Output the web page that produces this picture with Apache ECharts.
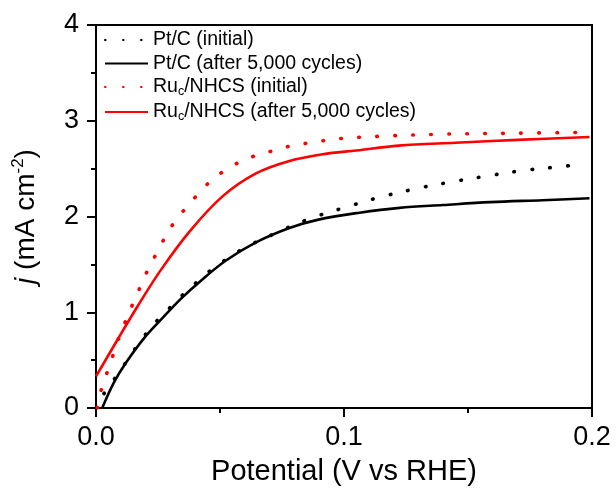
<!DOCTYPE html>
<html>
<head>
<meta charset="utf-8">
<script src="https://cdn.jsdelivr.net/npm/echarts@6/dist/echarts.min.js"></script>
<style>html,body{margin:0;padding:0;background:#fff;}#c{width:616px;height:504px;}</style>
</head>
<body>
<div id="c"></div>
<script>
// Series names
const seriesNames = ['Pt/C (initial)', 'Pt/C (after 5,000 cycles)', 'Ru_c/NHCS (initial)', 'Ru_c/NHCS (after 5,000 cycles)'];
// Axis ticks
const xTicks = [0.0, 0.1, 0.2];
const yTicks = [0, 1, 2, 3, 4];

// Pt/C (initial)
const ptInitV = [0.0032, 0.0076, 0.0116, 0.018, 0.0245, 0.0299, 0.0353, 0.0409, 0.0463, 0.0584, 0.0719, 0.0854, 0.0998, 0.1143, 0.129, 0.143, 0.157, 0.172, 0.187, 0.194];
const ptInitJ = [0.15, 0.31, 0.46, 0.70, 0.91, 1.05, 1.19, 1.32, 1.44, 1.65, 1.82, 1.97, 2.09, 2.20, 2.29, 2.36, 2.42, 2.48, 2.52, 2.54];
// Pt/C (after 5,000 cycles)
const ptAfterV = [0.0025, 0.0073, 0.012, 0.0194, 0.0261, 0.0342, 0.0423, 0.0524, 0.0645, 0.078, 0.0901, 0.1063, 0.1224, 0.14, 0.159, 0.18, 0.199];
const ptAfterJ = [0.00, 0.27, 0.47, 0.73, 0.92, 1.14, 1.33, 1.54, 1.73, 1.88, 1.97, 2.04, 2.09, 2.12, 2.15, 2.17, 2.19];
// Ru_c/NHCS (initial)
const ruInitV = [0.0005, 0.0019, 0.0043, 0.0066, 0.0089, 0.0147, 0.0174, 0.0203, 0.0241, 0.0308, 0.0403, 0.0454, 0.0513, 0.058, 0.0648, 0.0719, 0.079, 0.0863, 0.0939, 0.101, 0.1086, 0.1157, 0.14, 0.17, 0.199];
const ruInitJ = [0.00, 0.17, 0.36, 0.53, 0.71, 1.08, 1.24, 1.41, 1.60, 1.91, 2.21, 2.35, 2.47, 2.57, 2.64, 2.69, 2.74, 2.77, 2.80, 2.82, 2.83, 2.84, 2.86, 2.87, 2.88];
// Ru_c/NHCS (after 5,000 cycles)
const ruAfterV = [0.000, 0.0086, 0.0167, 0.0261, 0.0376, 0.051, 0.0645, 0.078, 0.0914, 0.105, 0.122, 0.145, 0.17, 0.199];
const ruAfterJ = [0.33, 0.71, 1.06, 1.44, 1.84, 2.21, 2.45, 2.58, 2.65, 2.69, 2.74, 2.77, 2.80, 2.83];

function pairs(v, j) { return v.map((x, i) => [x, j[i]]); }

const FONT = 'Liberation Sans, Arial, sans-serif';
const chart = echarts.init(document.getElementById('c'), null, {renderer: 'canvas'});

function mk(name, v, j, color, dash) {
  return {
    name: name, type: 'line', data: pairs(v, j), smooth: 0.35,
    showSymbol: false, symbol: 'none',
    lineStyle: {color: color, width: dash ? 3.6 : 2.6, type: dash ? [0.6, 17.4] : 'solid', cap: dash ? 'round' : 'butt'},
    itemStyle: {color: color}
  };
}

chart.setOption({
  animation: false,
  backgroundColor: '#fff',
  grid: {left: 96, right: 24, top: 25, bottom: 96, show: true, borderColor: '#000', borderWidth: 2, backgroundColor: 'transparent'},
  legend: {
    orient: 'vertical', left: 104, top: 30, padding: 0, itemWidth: 43, itemHeight: 10, itemGap: 3.5,
    itemStyle: {opacity: 0},
    data: seriesNames,
    formatter: function (n) {
      if (n.indexOf('Ru_c') === 0) return '{a|Ru}{s|c}{a|' + n.slice(4) + '}';
      return '{a|' + n + '}';
    },
    textStyle: {
      fontFamily: FONT, fontSize: 19.5, color: '#000',
      rich: {
        a: {fontFamily: FONT, fontSize: 19.5, color: '#000', lineHeight: 23},
        s: {fontFamily: FONT, fontSize: 12.5, color: '#000', lineHeight: 12, verticalAlign: 'bottom'}
      }
    }
  },
  xAxis: {
    type: 'value', min: xTicks[0], max: xTicks[xTicks.length - 1], interval: 0.1,
    name: 'Potential (V vs RHE)', nameLocation: 'middle', nameGap: 49,
    nameTextStyle: {fontFamily: FONT, fontSize: 29, color: '#000'},
    axisLine: {show: true, onZero: false, lineStyle: {color: '#000', width: 2}},
    axisTick: {show: true, inside: false, length: 9, lineStyle: {color: '#000', width: 2}},
    minorTick: {show: true, splitNumber: 2, length: 5, lineStyle: {color: '#000', width: 2}},
    axisLabel: {fontFamily: FONT, fontSize: 27, color: '#000', margin: 16, formatter: v => v.toFixed(1)},
    splitLine: {show: false}
  },
  yAxis: {
    type: 'value', min: yTicks[0], max: yTicks[yTicks.length - 1], interval: 1,
    name: '{i|j} {a|(mA cm}{s|-2}{a|)}', nameLocation: 'middle', nameGap: 54, nameRotate: 90,
    nameTextStyle: {
      fontFamily: FONT, fontSize: 28, color: '#000',
      rich: {
        i: {fontFamily: FONT, fontSize: 28, fontStyle: 'italic', color: '#000', lineHeight: 32},
        a: {fontFamily: FONT, fontSize: 28, color: '#000', lineHeight: 32},
        s: {fontFamily: FONT, fontSize: 17, color: '#000', lineHeight: 17, verticalAlign: 'top'}
      }
    },
    axisLine: {show: true, onZero: false, lineStyle: {color: '#000', width: 2}},
    axisTick: {show: true, inside: false, length: 9, lineStyle: {color: '#000', width: 2}},
    minorTick: {show: true, splitNumber: 2, length: 5, lineStyle: {color: '#000', width: 2}},
    axisLabel: {fontFamily: FONT, fontSize: 27, color: '#000', margin: 17},
    splitLine: {show: false}
  },
  series: [
    mk(seriesNames[0], ptInitV, ptInitJ, '#000', true),
    mk(seriesNames[1], ptAfterV, ptAfterJ, '#000', false),
    mk(seriesNames[2], ruInitV, ruInitJ, '#ff0000', true),
    mk(seriesNames[3], ruAfterV, ruAfterJ, '#ff0000', false)
  ]
});
</script>
</body>
</html>
